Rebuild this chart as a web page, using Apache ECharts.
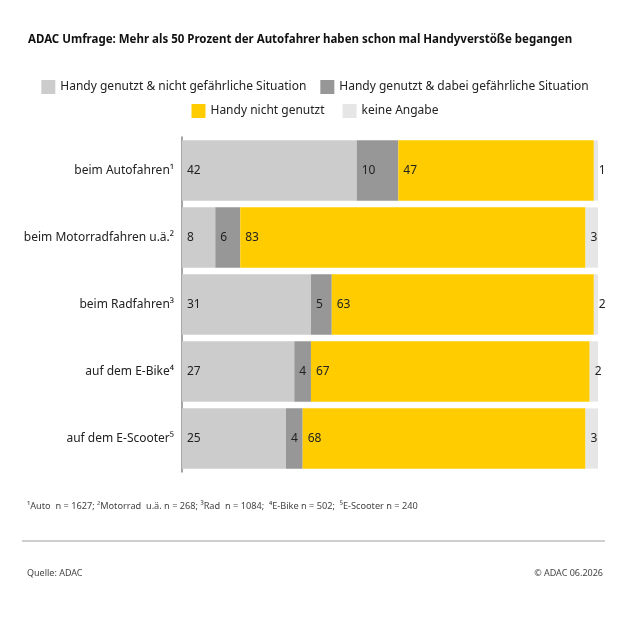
<!DOCTYPE html>
<html>
<head>
<meta charset="utf-8">
<script src="https://cdn.jsdelivr.net/npm/echarts@6/dist/echarts.min.js"></script>
<style>
  html, body { margin: 0; padding: 0; background: #fff; }
  #chart { width: 630px; height: 632px; }
</style>
</head>
<body>
<div id="chart"></div>
<script>
// Kategorien und Werte (Prozent)
var categories = ['beim Autofahren¹', 'beim Motorradfahren u.ä.²', 'beim Radfahren³', 'auf dem E-Bike⁴', 'auf dem E-Scooter⁵'];
var seriesNames = ['Handy genutzt & nicht gefährliche Situation', 'Handy genutzt & dabei gefährliche Situation', 'Handy nicht genutzt', 'keine Angabe'];
var nichtGefaehrlich = [42, 8, 31, 27, 25];
var gefaehrlich = [10, 6, 5, 4, 4];
var nichtGenutzt = [47, 83, 63, 67, 68];
var keineAngabe = [1, 3, 2, 2, 3];

var colors = ['#cccccc', '#979797', '#ffcc00', '#e6e6e6'];
var font = 'Noto Sans';

var chart = echarts.init(document.getElementById('chart'));

function makeSeries(i, data) {
    return {
        name: seriesNames[i],
        type: 'bar',
        stack: 'total',
        barCategoryGap: '10%',
        itemStyle: { color: colors[i] },
        label: {
            show: true,
            position: 'insideLeft',
            distance: 5,
            color: '#222',
            fontSize: 12,
            fontFamily: font,
        },
        emphasis: { disabled: true },
        data: data,
    };
}

var option = {
    animation: false,
    textStyle: { fontFamily: font },
    title: {
        text: 'ADAC Umfrage: Mehr als 50 Prozent der Autofahrer haben schon mal Handyverstöße begangen',
        left: 23,
        top: 29,
        textStyle: { fontSize: 11.5, fontWeight: 'bold', color: '#111', fontFamily: font },
    },
    legend: [
        {
            data: seriesNames.slice(0, 2),
            top: 75,
            left: 'center',
            icon: 'rect',
            itemWidth: 14,
            itemHeight: 14,
            itemGap: 14,
            textStyle: { fontSize: 12, color: '#222' },
        },
        {
            data: seriesNames.slice(2),
            top: 99,
            left: 'center',
            icon: 'rect',
            itemWidth: 14,
            itemHeight: 14,
            itemGap: 18,
            textStyle: { fontSize: 12, color: '#222' },
        },
    ],
    grid: {
        left: 182,
        right: 32,
        top: 137,
        height: 335,
        containLabel: false,
    },
    xAxis: {
        type: 'value',
        min: 0,
        max: 100,
        show: false,
    },
    yAxis: {
        type: 'category',
        inverse: true,
        data: categories,
        axisLine: { show: true, lineStyle: { color: '#888', width: 1.5 } },
        axisTick: { show: false },
        axisLabel: { color: '#222', fontSize: 12, margin: 8 },
    },
    series: [
        makeSeries(0, nichtGefaehrlich),
        makeSeries(1, gefaehrlich),
        makeSeries(2, nichtGenutzt),
        makeSeries(3, keineAngabe),
    ],
    graphic: [
        {
            type: 'text',
            left: 27,
            top: 502,
            style: {
                text: '¹Auto  n = 1627; ²Motorrad  u.ä. n = 268; ³Rad  n = 1084;  ⁴E-Bike n = 502;  ⁵E-Scooter n = 240',
                fontSize: 9.2,
                fill: '#444',
                fontFamily: font,
            },
        },
        {
            type: 'line',
            shape: { x1: 22, y1: 541, x2: 605, y2: 541 },
            style: { stroke: '#cfcfcf', lineWidth: 2 },
        },
        {
            type: 'text',
            left: 27,
            top: 569,
            style: { text: 'Quelle: ADAC', fontSize: 9, fill: '#444', fontFamily: font },
        },
        {
            type: 'text',
            right: 27,
            top: 569,
            style: { text: '© ADAC 06.2026', fontSize: 9, fill: '#444', fontFamily: font },
        },
    ],
};

chart.setOption(option);
</script>
</body>
</html>
